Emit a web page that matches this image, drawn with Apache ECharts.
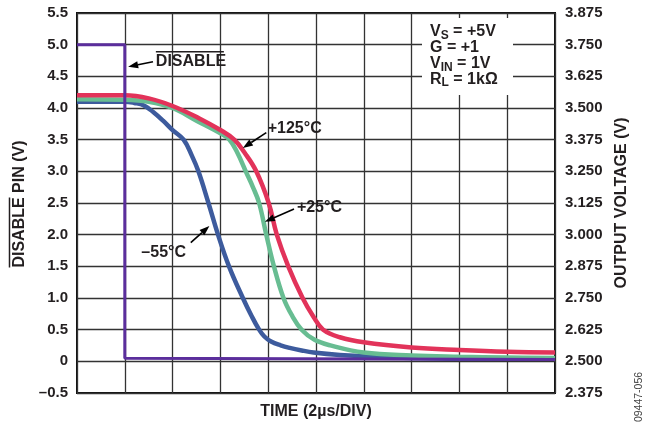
<!DOCTYPE html>
<html lang="en">
<head>
    <meta charset="UTF-8">
    <title>Disable response</title>
    <script src="https://cdn.jsdelivr.net/npm/echarts@6/dist/echarts.min.js"></script>
    <style>
        html, body { margin: 0; padding: 0; background: #fff; }
        #main { width: 649px; height: 429px; }
    </style>
</head>
<body>
    <div id="main"></div>
    <script type="text/javascript">
        // time in divisions (2us/div), disable pin in V (left axis)
        const disableTime = [0, 1.0, 1.0, 10];
        const disablePin = [5.0, 5.0, 0.05, 0.03];

        // output voltage in V (right axis)
        const hotTime = [0, 1, 1.5, 2, 2.57, 3, 3.29, 3.5, 3.75, 4.01, 4.18, 4.42, 4.72, 4.95, 5.15, 5.5, 6, 7, 8, 9, 10];
        const hotOut = [3.55, 3.55, 3.538, 3.508, 3.458, 3.413, 3.375, 3.325, 3.25, 3.125, 3.0, 2.875, 2.75, 2.675, 2.625, 2.595, 2.575, 2.555, 2.545, 2.538, 2.535];

        const roomTime = [0, 1, 1.5, 2, 2.5, 3, 3.19, 3.35, 3.53, 3.68, 3.81, 3.96, 4.12, 4.32, 4.5, 4.7, 4.97, 5.3, 6, 7, 8, 9, 10];
        const roomOut = [3.535, 3.533, 3.525, 3.5, 3.45, 3.4, 3.375, 3.325, 3.25, 3.188, 3.125, 3.0, 2.875, 2.75, 2.68, 2.625, 2.585, 2.563, 2.535, 2.523, 2.518, 2.515, 2.513];

        const coldTime = [0, 1, 1.2, 1.4, 1.6, 1.8, 2, 2.23, 2.4, 2.54, 2.75, 2.95, 3.18, 3.47, 3.65, 3.81, 3.92, 4.06, 4.26, 4.45, 4.7, 4.95, 5.5, 6, 7, 8, 10];
        const coldOut = [3.525, 3.525, 3.52, 3.51, 3.483, 3.45, 3.413, 3.375, 3.313, 3.25, 3.125, 3.0, 2.875, 2.75, 2.68, 2.625, 2.598, 2.578, 2.563, 2.553, 2.543, 2.535, 2.525, 2.52, 2.513, 2.51, 2.51];

        const conditions = ['V{s|S} = +5V', 'G = +1', 'V{s|IN} = 1V', 'R{s|L} = 1k\u03A9'];

        // annotation labels, anchored in left-axis units
        const notes = [
            { text: 'DISABLE', at: [1.65, 4.73], align: 'left', overline: true, arrow: [[1.59, 4.73], [1.07, 4.65]] },
            { text: '+125\u00B0C', at: [3.99, 3.68], align: 'left', arrow: [[3.96, 3.61], [3.47, 3.37]] },
            { text: '+25\u00B0C', at: [4.6, 2.42], align: 'left', arrow: [[4.54, 2.405], [3.93, 2.205]] },
            { text: '\u201355\u00B0C', at: [2.28, 1.715], align: 'right', arrow: [[2.38, 1.873], [2.77, 2.137]] }
        ];

        const zip = (xs, ys) => xs.map((x, i) => [x, ys[i]]);
        const FONT = '"Liberation Sans", Arial, sans-serif';
        const INK = '#231f20';

        const chart = echarts.init(document.getElementById('main'));

        const line = (data, color, axis, smooth, width) => ({
            type: 'line',
            yAxisIndex: axis,
            data: data,
            showSymbol: false,
            smooth: smooth,
            lineStyle: { color: color, width: width },
            itemStyle: { color: color }
        });

        chart.setOption({
            animation: false,
            grid: {
                left: 77, right: 94, top: 13, bottom: 36,
                show: true, borderColor: '#111', borderWidth: 2
            },
            xAxis: {
                type: 'value', min: 0, max: 10, interval: 1,
                axisLabel: { show: false },
                axisTick: { show: false },
                axisLine: { show: false },
                splitLine: { show: true, lineStyle: { color: '#333', width: 1.3 } },
                name: 'TIME (2\u00B5s/DIV)',
                nameLocation: 'middle',
                nameGap: 11,
                nameTextStyle: { fontFamily: FONT, fontWeight: 'bold', fontSize: 16, color: INK, verticalAlign: 'top' }
            },
            yAxis: [{
                type: 'value', min: -0.5, max: 5.5, interval: 0.5,
                axisTick: { show: false },
                axisLine: { show: false },
                splitLine: { show: true, lineStyle: { color: '#333', width: 1.3 } },
                axisLabel: {
                    margin: 9, fontFamily: FONT, fontWeight: 'bold', fontSize: 15, color: INK,
                    formatter: v => v === 0 ? '0' : (v < 0 ? '\u2013' + Math.abs(v).toFixed(1) : v.toFixed(1))
                }
            }, {
                type: 'value', min: 2.375, max: 3.875, interval: 0.125,
                axisTick: { show: false },
                axisLine: { show: false },
                splitLine: { show: false },
                axisLabel: {
                    margin: 10, fontFamily: FONT, fontWeight: 'bold', fontSize: 15, color: INK,
                    formatter: v => v.toFixed(3)
                }
            }],
            series: [
                line(zip(coldTime, coldOut), '#3d5b9d', 1, 0.4, 4.5),
                line(zip(roomTime, roomOut), '#68bd92', 1, 0.4, 4.5),
                line(zip(hotTime, hotOut), '#e2335a', 1, 0.4, 4.5),
                line(zip(disableTime, disablePin), '#5b2e9c', 0, false, 3)
            ]
        });

        const px = p => chart.convertToPixel({ xAxisIndex: 0, yAxisIndex: 0 }, p);
        const graphics = [];
        const txt = { fontFamily: FONT, fontWeight: 'bold', fontSize: 16, fill: INK };

        notes.forEach(n => {
            const p = px(n.at);
            graphics.push({
                type: 'text', x: p[0], y: p[1], z: 10,
                style: Object.assign({ text: n.text, align: n.align, verticalAlign: 'middle' }, txt)
            });
            if (n.overline) {
                graphics.push({
                    type: 'line', z: 10,
                    shape: { x1: p[0], y1: p[1] - 10, x2: p[0] + 68, y2: p[1] - 10 },
                    style: { stroke: INK, lineWidth: 1.5 }
                });
            }
            const a = px(n.arrow[0]);
            const b = px(n.arrow[1]);
            const dx = b[0] - a[0], dy = b[1] - a[1];
            const len = Math.sqrt(dx * dx + dy * dy);
            const ux = dx / len, uy = dy / len;
            const head = 10, half = 3.6;
            const bx = b[0] - ux * head, by = b[1] - uy * head;
            graphics.push({
                type: 'line', z: 10,
                shape: { x1: a[0], y1: a[1], x2: bx, y2: by },
                style: { stroke: '#000', lineWidth: 1.6 }
            });
            graphics.push({
                type: 'polygon', z: 10,
                shape: { points: [b, [bx - uy * half, by + ux * half], [bx + uy * half, by - ux * half]] },
                style: { fill: '#000' }
            });
        });

        // conditions box
        graphics.push({
            type: 'rect', z: 5,
            shape: { x: 422, y: 18, width: 91, height: 77 },
            style: { fill: '#fff' }
        });
        conditions.forEach((c, i) => {
            graphics.push({
                type: 'text', x: 430, y: 32 + i * 15.7, z: 10,
                style: Object.assign({
                    text: c, verticalAlign: 'middle',
                    rich: { s: { fontFamily: FONT, fontWeight: 'bold', fontSize: 12, fill: INK, padding: [8, 0, 0, 0] } }
                }, txt)
            });
        });

        // left axis title with overlined DISABLE
        graphics.push({
            type: 'group', x: 20, y: 204, rotation: Math.PI / 2,
            children: [{
                type: 'text', x: 0, y: 0,
                style: Object.assign({ text: 'DISABLE PIN (V)', align: 'center', verticalAlign: 'middle' }, txt)
            }, {
                type: 'line',
                shape: { x1: -63.5, y1: -10.5, x2: 6.5, y2: -10.5 },
                style: { stroke: INK, lineWidth: 1.5 }
            }]
        });
        // right axis title
        graphics.push({
            type: 'group', x: 622, y: 203, rotation: Math.PI / 2,
            children: [{
                type: 'text', x: 0, y: 0,
                style: Object.assign({ text: 'OUTPUT VOLTAGE (V)', align: 'center', verticalAlign: 'middle' }, txt)
            }]
        });
        // figure id
        graphics.push({
            type: 'text', x: 639, y: 397, rotation: Math.PI / 2,
            style: { text: '09447-056', align: 'center', verticalAlign: 'middle', fontFamily: FONT, fontSize: 10.5, fill: '#444' }
        });

        chart.setOption({ graphic: graphics });
    </script>
</body>
</html>
